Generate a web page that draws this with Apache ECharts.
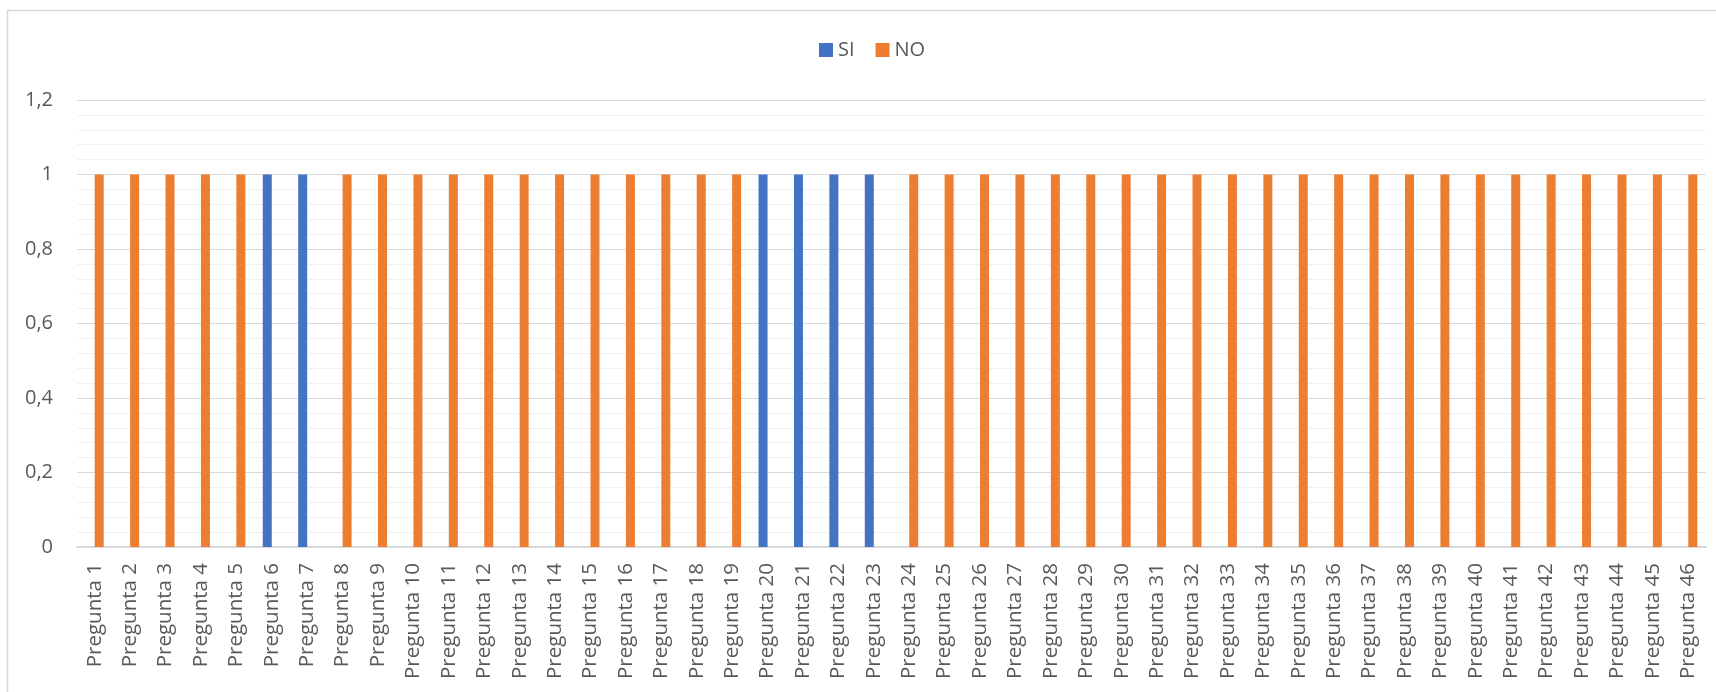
<!DOCTYPE html>
<html>
<head>
<meta charset="utf-8">
<style>
  html, body { margin: 0; padding: 0; background: #ffffff; }
  #chart { width: 1716px; height: 692px; }
</style>
<script src="https://cdn.jsdelivr.net/npm/echarts@6/dist/echarts.min.js"></script>
</head>
<body>
<div id="chart"></div>
<script>
// Question labels, 1..46
const categories = [
  'Pregunta 1','Pregunta 2','Pregunta 3','Pregunta 4','Pregunta 5','Pregunta 6','Pregunta 7','Pregunta 8',
  'Pregunta 9','Pregunta 10','Pregunta 11','Pregunta 12','Pregunta 13','Pregunta 14','Pregunta 15','Pregunta 16',
  'Pregunta 17','Pregunta 18','Pregunta 19','Pregunta 20','Pregunta 21','Pregunta 22','Pregunta 23','Pregunta 24',
  'Pregunta 25','Pregunta 26','Pregunta 27','Pregunta 28','Pregunta 29','Pregunta 30','Pregunta 31','Pregunta 32',
  'Pregunta 33','Pregunta 34','Pregunta 35','Pregunta 36','Pregunta 37','Pregunta 38','Pregunta 39','Pregunta 40',
  'Pregunta 41','Pregunta 42','Pregunta 43','Pregunta 44','Pregunta 45','Pregunta 46'
];

// Answers per question (null = no bar)
const siValues = [
  null, null, null, null, null, 1, 1, null,
  null, null, null, null, null, null, null, null,
  null, null, null, 1, 1, 1, 1, null,
  null, null, null, null, null, null, null, null,
  null, null, null, null, null, null, null, null,
  null, null, null, null, null, null
];
const noValues = [
  1, 1, 1, 1, 1, null, null, 1,
  1, 1, 1, 1, 1, 1, 1, 1,
  1, 1, 1, null, null, null, null, 1,
  1, 1, 1, 1, 1, 1, 1, 1,
  1, 1, 1, 1, 1, 1, 1, 1,
  1, 1, 1, 1, 1, 1
];

const seriesNames = ['SI', 'NO'];

const FONT = '"Open Sans", "Noto Sans", sans-serif';
const TEXT = '#595959';

const chart = echarts.init(document.getElementById('chart'), null, { renderer: 'canvas' });

chart.setOption({
  animation: false,
  backgroundColor: '#ffffff',
  graphic: [{
    type: 'rect',
    shape: { x: 7.5, y: 10.5, width: 1720, height: 700 },
    style: { fill: 'none', stroke: '#d9d9d9', lineWidth: 1.5 },
    silent: true
  }],
  legend: {
    data: seriesNames,
    top: 35,
    left: 814,
    itemWidth: 14,
    itemHeight: 14,
    itemGap: 21,
    icon: 'rect',
    textStyle: { fontFamily: FONT, fontSize: 20, color: TEXT }
  },
  grid: { left: 77, right: 10, top: 100, bottom: 145 },
  xAxis: {
    type: 'category',
    data: categories,
    axisLine: { show: true, lineStyle: { color: '#d9d9d9', width: 2 } },
    axisTick: { show: false },
    axisLabel: {
      rotate: 90,
      interval: 0,
      margin: 16,
      fontFamily: FONT,
      fontSize: 20.5,
      color: TEXT
    },
    splitLine: { show: false }
  },
  yAxis: {
    type: 'value',
    min: 0,
    max: 1.2,
    interval: 0.2,
    axisLine: { show: false },
    axisTick: { show: false },
    axisLabel: {
      margin: 24,
      fontFamily: FONT,
      fontSize: 20,
      color: TEXT,
      formatter: v => String(Math.round(v * 10) / 10).replace('.', ',')
    },
    splitLine: { show: true, lineStyle: { color: '#d9d9d9', width: 1.2 } },
    minorTick: { show: false, splitNumber: 5 },
    minorSplitLine: { show: true, lineStyle: { color: '#f0f0f0', width: 1.2 } }
  },
  series: [
    {
      name: seriesNames[0],
      type: 'bar',
      data: siValues,
      barWidth: 9,
      barGap: '0%',
      itemStyle: { color: '#4472C4' }
    },
    {
      name: seriesNames[1],
      type: 'bar',
      data: noValues,
      barWidth: 9,
      barGap: '0%',
      itemStyle: { color: '#ED7D31' }
    }
  ]
});
</script>
</body>
</html>
